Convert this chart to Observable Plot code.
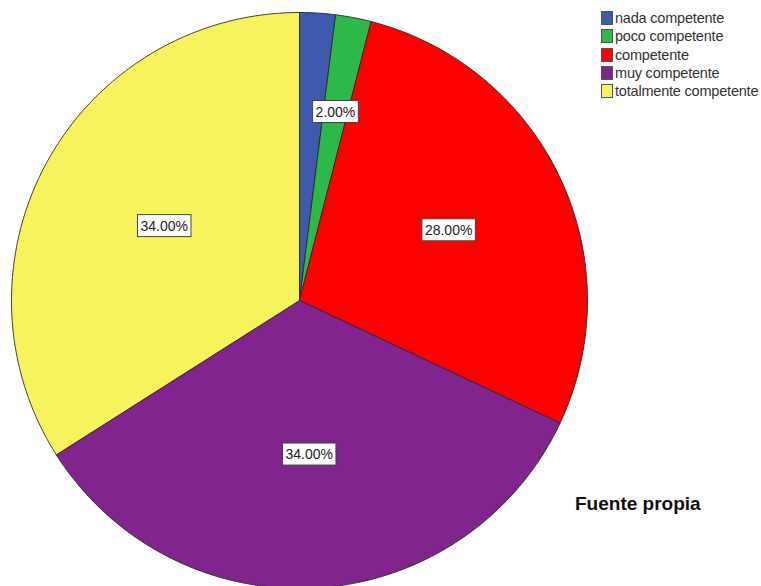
<!DOCTYPE html>
<html>
<head>
<meta charset="utf-8">
<script src="https://cdn.jsdelivr.net/npm/d3@7"></script>
<script src="https://cdn.jsdelivr.net/npm/@observablehq/plot@0.6"></script>
<style>
  html, body { margin: 0; padding: 0; background: #fff; }
  #wrap { position: relative; width: 761px; height: 586px; overflow: hidden; font-family: "Liberation Sans", Arial, sans-serif; }
  #legend { position: absolute; left: 601px; top: 9px; }
  .item { display: flex; align-items: center; height: 18.25px; font-size: 14.5px; color: #333; white-space: nowrap; letter-spacing: -0.2px; }
  .sw { width: 12px; height: 14px; border: 1px solid #555; box-sizing: border-box; margin-right: 2px; }
  #caption { position: absolute; left: 575px; top: 493px; font-size: 19px; font-weight: bold; color: #111; }
</style>
</head>
<body>
<div id="wrap">
  <div id="chart"></div>
  <div id="legend"></div>
  <div id="caption">Fuente propia</div>
</div>
<script>
// ---- data ----
const categories = ["nada competente", "poco competente", "competente", "muy competente", "totalmente competente"];
const percents = [2, 2, 28, 34, 34];
const colors = ["#3D5AAE", "#2DB84A", "#FF0000", "#82248E", "#F7F35C"];
const labelTexts = ["2.00%", "2.00%", "28.00%", "34.00%", "34.00%"];

// ---- layout ----
const W = 761, H = 586;
const cx = 299, cy = 300, R = 288;

const data = categories.map((c, i) => ({key: c, value: percents[i], label: labelTexts[i]}));
const arcs = d3.pie().sort(null).value(d => d.value)(data);

// polygon points for each slice (data units = pixels, y up)
const pts = [];
arcs.forEach(a => {
  const key = a.data.key;
  pts.push({key, x: 0, y: 0});
  const n = Math.max(2, Math.ceil((a.endAngle - a.startAngle) / (Math.PI / 360)));
  for (let k = 0; k <= n; k++) {
    const t = a.startAngle + (a.endAngle - a.startAngle) * k / n;
    pts.push({key, x: R * Math.sin(t), y: R * Math.cos(t)});
  }
  pts.push({key, x: 0, y: 0});
});

// labels at slice centroids
let labels = arcs.map(a => {
  const alpha = a.endAngle - a.startAngle;
  const mid = (a.startAngle + a.endAngle) / 2;
  const d = 4 * R * Math.sin(alpha / 2) / (3 * alpha) * (alpha > 1 ? 0.98 : 1);
  return {key: a.data.key, text: a.data.label, x: d * Math.sin(mid), y: d * Math.cos(mid)};
});
// hide labels that overlap the next one
labels = labels.filter((l, i) => {
  const nx = labels[i + 1];
  return !(nx && Math.hypot(nx.x - l.x, nx.y - l.y) < 40);
});

const plot = Plot.plot({
  width: W, height: H,
  margin: 0,
  x: {domain: [-cx, W - cx], axis: null},
  y: {domain: [-(H - cy), cy], axis: null},
  color: {domain: categories, range: colors},
  marks: [
    Plot.line(pts, {x: "x", y: "y", z: "key", fill: "key", stroke: "#2a2a2a", strokeWidth: 0.9, strokeLinejoin: "round", curve: "linear"}),
    Plot.text(labels, {x: "x", y: "y", text: "text", fontSize: 14, fill: "#222", fontFamily: "Liberation Sans, Arial, sans-serif"})
  ]
});
document.getElementById("chart").appendChild(plot);

// boxes behind labels
d3.select(plot).selectAll("text").filter(function() { return /%$/.test(this.textContent); }).each(function() {
  const b = this.getBBox();
  const padX = 3, padY = 4;
  d3.select(this.parentNode).insert("rect", () => this)
    .attr("x", b.x - padX).attr("y", b.y - padY + 1)
    .attr("width", b.width + 2 * padX).attr("height", b.height + 2 * padY - 2)
    .attr("fill", "#fff").attr("stroke", "#444").attr("stroke-width", 1)
    .attr("transform", this.getAttribute("transform"));
});

// legend
const leg = d3.select("#legend");
categories.forEach((c, i) => {
  const it = leg.append("div").attr("class", "item");
  it.append("div").attr("class", "sw").style("background", colors[i]);
  it.append("span").text(c);
});
</script>
</body>
</html>
